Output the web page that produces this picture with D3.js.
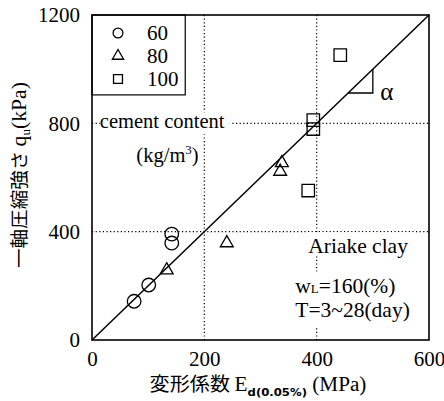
<!DOCTYPE html>
<meta charset="utf-8">
<title>qu vs Ed</title>
<style>
    body { margin: 0; background: #fff; }
    .grid { stroke: #000; stroke-width: 1.2; stroke-dasharray: 1.2 2.4; fill: none; }
    .frame { fill: none; stroke: #000; stroke-width: 1.6; }
    .mark { fill: none; stroke: #000; stroke-width: 1.3; }
</style>
<body>
<svg id="chart" width="444" height="401" font-family="Liberation Serif, serif"></svg>
<script src="https://d3js.org/d3.v7.min.js"></script>
<script>
    // cement content 60 kg/m3 (circles)
    var e60 = [75, 101, 142, 142];
    var q60 = [143, 203, 391, 358];
    // cement content 80 kg/m3 (triangles)
    var e80 = [133, 240, 338, 335];
    var q80 = [258, 358, 654, 622];
    // cement content 100 kg/m3 (squares)
    var e100 = [442, 394, 394, 385];
    var q100 = [1052, 812, 779, 552];

    var xTicks = [0, 200, 400, 600];
    var yTicks = [0, 400, 800, 1200];
    var legendLabels = ["60", "80", "100"];
    var fitLine = [[0, 0], [600, 1200]];

    var SERIF = "'Liberation Serif', serif";
    var JP = "'Noto Sans CJK JP', sans-serif";

    var margin = { top: 15, left: 92 },
        width = 429 - margin.left,
        height = 340 - margin.top;

    var svg = d3.select("#chart");
    var g = svg.append("g").attr("transform", "translate(" + margin.left + "," + margin.top + ")");

    var x = d3.scaleLinear().domain([0, 600]).range([0, width]);
    var y = d3.scaleLinear().domain([0, 1200]).range([height, 0]);

    // dotted grid
    g.selectAll(".vg").data([200, 400]).enter().append("line")
        .attr("class", "grid")
        .attr("x1", d => x(d)).attr("x2", d => x(d))
        .attr("y1", 0).attr("y2", height);
    g.selectAll(".hg").data([400, 800]).enter().append("line")
        .attr("class", "grid")
        .attr("y1", d => y(d)).attr("y2", d => y(d))
        .attr("x1", 0).attr("x2", width);

    // axes (labels only)
    var xa = g.append("g").attr("transform", "translate(0," + height + ")")
        .call(d3.axisBottom(x).tickValues(xTicks).tickFormat(d3.format("d")).tickSize(0).tickPadding(9));
    xa.select(".domain").remove();
    xa.selectAll("text").attr("dy", "0.8em");
    var ya = g.append("g")
        .call(d3.axisLeft(y).tickValues(yTicks).tickFormat(d3.format("d")).tickSize(0).tickPadding(12));
    ya.select(".domain").remove();
    [xa, ya].forEach(function(a) {
        a.attr("font-family", SERIF).attr("font-size", 21);
        a.selectAll("text").attr("fill", "#000").style("font-family", SERIF);
    });

    // annotation texts with white backgrounds
    function label(txt, tx, ty, size) {
        return g.append("text").attr("x", tx).attr("y", ty)
            .style("font-family", SERIF).attr("font-size", size).text(txt);
    }
    function backed(tx, ty, w, h) {
        g.append("rect").attr("x", tx).attr("y", ty).attr("width", w).attr("height", h).attr("fill", "#fff");
    }
    backed(x(14), y(800) - 11, 130, 22);
    label("cement content", x(14), y(800) + 5, 20.5);
    backed(x(78), y(680) - 16, 66, 26);
    var kg = label("(kg/m", x(79), y(680) + 6, 20.5);
    kg.append("tspan").attr("font-size", 13).attr("dy", -8).text("3");
    kg.append("tspan").attr("dy", 8).text(")");

    backed(x(380), y(335) - 17, 110, 24);
    label("Ariake clay", x(385), y(335) + 4, 21.5);
    backed(x(358), y(190) - 17, 132, 56);
    var wl = label("w", x(362), y(190) + 4, 21.5);
    wl.append("tspan").attr("font-size", 13).text("L");
    wl.append("tspan").text("=160(%)");
    label("T=3~28(day)", x(362), y(98) + 4, 21.5);

    // fit line
    g.append("line").attr("stroke", "#000").attr("stroke-width", 1.5)
        .attr("x1", x(fitLine[0][0])).attr("y1", y(fitLine[0][1]))
        .attr("x2", x(fitLine[1][0])).attr("y2", y(fitLine[1][1]));

    // slope triangle alpha
    var aE0 = 456, aE1 = 500;
    g.append("path").attr("fill", "none").attr("stroke", "#000").attr("stroke-width", 1.3)
        .attr("d", "M" + x(aE0) + "," + y(aE0 * 2) + "H" + x(aE1) + "V" + y(aE1 * 2));
    label("α", x(513), y(887), 25);

    // markers
    var sym = {
        c: d3.symbol().type(d3.symbolCircle).size(145),
        t: d3.symbol().type(d3.symbolTriangle).size(72),
        s: d3.symbol().type(d3.symbolSquare).size(155)
    };
    function plot(es, qs, s) {
        g.append("g").selectAll("path").data(es).enter().append("path")
            .attr("class", "mark")
            .attr("fill", "#fff")
            .attr("transform", (d, i) => "translate(" + x(d) + "," + y(qs[i]) + ")")
            .attr("d", sym[s]);
    }
    plot(e60, q60, "c");
    plot(e80, q80, "t");
    plot(e100, q100, "s");

    // legend
    var lg = g.append("g");
    lg.append("rect").attr("x", 0).attr("y", 0).attr("width", x(166)).attr("height", y(905))
        .attr("fill", "#fff").attr("stroke", "#000").attr("stroke-width", 1.2);
    var legSym = [d3.symbolCircle, d3.symbolTriangle, d3.symbolSquare];
    var legSize = [75, 55, 80];
    legendLabels.forEach(function(lab, i) {
        var ly = 18 + i * 23;
        lg.append("path").attr("class", "mark")
            .attr("transform", "translate(26," + ly + ")")
            .attr("d", d3.symbol().type(legSym[i]).size(legSize[i]));
        lg.append("text").attr("x", 55).attr("y", ly + 7).attr("font-size", 21)
            .style("font-family", SERIF).text(lab);
    });

    // frame
    g.append("rect").attr("class", "frame").attr("width", width).attr("height", height);

    // axis titles, squeezed to the span they take in the picture
    function place(sel, len, tr) {
        var w = sel.node().getBBox().width;
        sel.attr("transform", tr + " scale(" + (len / w) + ",1)");
    }
    var xt = svg.append("text").attr("text-anchor", "middle").attr("font-size", 20).style("font-family", SERIF);
    xt.append("tspan").style("font-family", JP).attr("font-size", 19).text("変形係数 ");
    xt.append("tspan").text("E");
    xt.append("tspan").attr("font-size", 11).attr("dy", 5).style("font-family", "'DejaVu Sans'").attr("font-weight", "bold").text("d(0.05%)");
    xt.append("tspan").attr("dy", -5).text(" (MPa)");
    place(xt, 217, "translate(258,391)");

    var yt = svg.append("text").attr("text-anchor", "middle").attr("font-size", 20).style("font-family", SERIF);
    yt.append("tspan").style("font-family", JP).attr("font-size", 18).text("一軸圧縮強さ ");
    yt.append("tspan").text("q");
    yt.append("tspan").attr("font-size", 12).attr("dy", 4).text("u");
    yt.append("tspan").attr("dy", -4).text("(kPa)");
    place(yt, 186, "translate(26,175) rotate(-90)");
</script>
</body>
